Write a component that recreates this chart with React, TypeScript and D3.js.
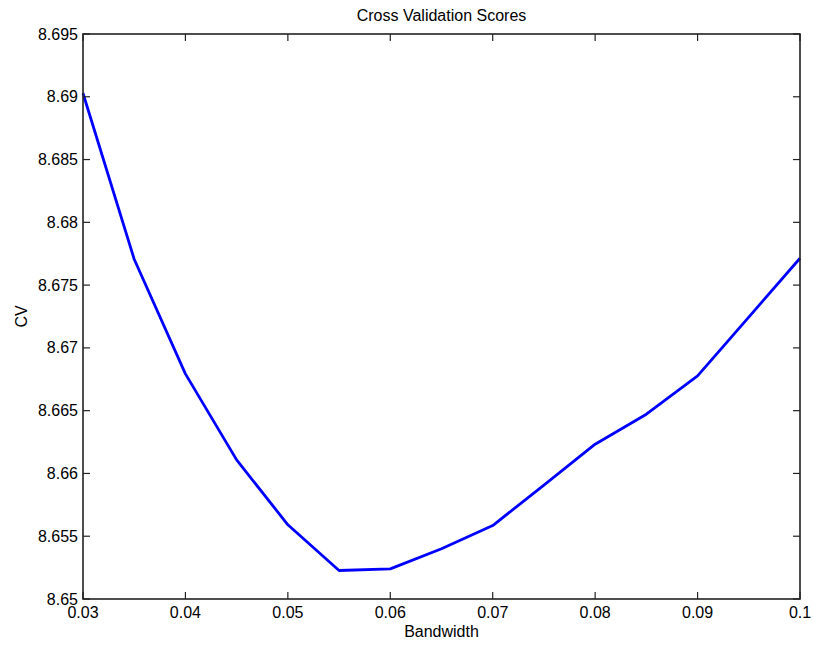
import React from "react";
import * as d3 from "d3";

const bandwidth = [0.03, 0.035, 0.04, 0.045, 0.05, 0.055, 0.06, 0.065, 0.07, 0.075, 0.08, 0.085, 0.09, 0.095, 0.1];
const cvScores = [8.69028, 8.67706, 8.66793, 8.66108, 8.65591, 8.65227, 8.6524, 8.654, 8.65585, 8.65907, 8.66233, 8.66472, 8.66777, 8.67245, 8.67714];
const xTicks = [0.03, 0.04, 0.05, 0.06, 0.07, 0.08, 0.09, 0.1];
const yTicks = [8.65, 8.655, 8.66, 8.665, 8.67, 8.675, 8.68, 8.685, 8.69, 8.695];
const title = "Cross Validation Scores";
const xLabel = "Bandwidth";
const yLabel = "CV";

const W = 813;
const H = 646;
const M = { left: 83, right: 13, top: 34, bottom: 47 };
const FONT = "'Liberation Sans', Arial, Helvetica, sans-serif";
const FS = 16;

export default function App() {
  const x = d3.scaleLinear().domain([0.03, 0.1]).range([M.left, W - M.right]);
  const y = d3.scaleLinear().domain([8.65, 8.695]).range([H - M.bottom, M.top]);
  const line = d3
    .line<number>()
    .x((_, i) => x(bandwidth[i]))
    .y((d) => y(d));
  const x0 = x.range()[0];
  const x1 = x.range()[1];
  const y0 = y.range()[0];
  const y1 = y.range()[1];
  const tl = 7;
  const fmt = (v: number) => String(+v.toFixed(4));
  return (
    <svg width={W} height={H} style={{ position: "absolute", left: 0, top: 0, background: "#fff" }} fontFamily={FONT}>
      <rect x={0} y={0} width={W} height={H} fill="#fff" />
      <path d={line(cvScores) || ""} fill="none" stroke="#0000ff" strokeWidth={2.8} strokeLinejoin="round" />
      <g stroke="#222" strokeWidth={1.2}>
        {xTicks.map((t) => (
          <g key={"xt" + t}>
            <line x1={x(t)} x2={x(t)} y1={y0} y2={y0 - tl} />
            <line x1={x(t)} x2={x(t)} y1={y1} y2={y1 + tl} />
          </g>
        ))}
        {yTicks.map((t) => (
          <g key={"yt" + t}>
            <line x1={x0} x2={x0 + tl} y1={y(t)} y2={y(t)} />
            <line x1={x1} x2={x1 - tl} y1={y(t)} y2={y(t)} />
          </g>
        ))}
        <rect x={x0} y={y1} width={x1 - x0} height={y0 - y1} fill="none" strokeWidth={1.6} />
      </g>
      <g fontSize={FS} fill="#000">
        {xTicks.map((t) => (
          <text key={"xl" + t} x={x(t)} y={y0 + 19} textAnchor="middle">
            {fmt(t)}
          </text>
        ))}
        {yTicks.map((t) => (
          <text key={"yl" + t} x={x0 - 5} y={y(t) + 5.5} textAnchor="end">
            {fmt(t)}
          </text>
        ))}
        <text x={(x0 + x1) / 2} y={21} textAnchor="middle">
          {title}
        </text>
        <text x={(x0 + x1) / 2} y={637} textAnchor="middle">
          {xLabel}
        </text>
        <text transform={`translate(27, ${(y0 + y1) / 2}) rotate(-90)`} textAnchor="middle">
          {yLabel}
        </text>
      </g>
    </svg>
  );
}
